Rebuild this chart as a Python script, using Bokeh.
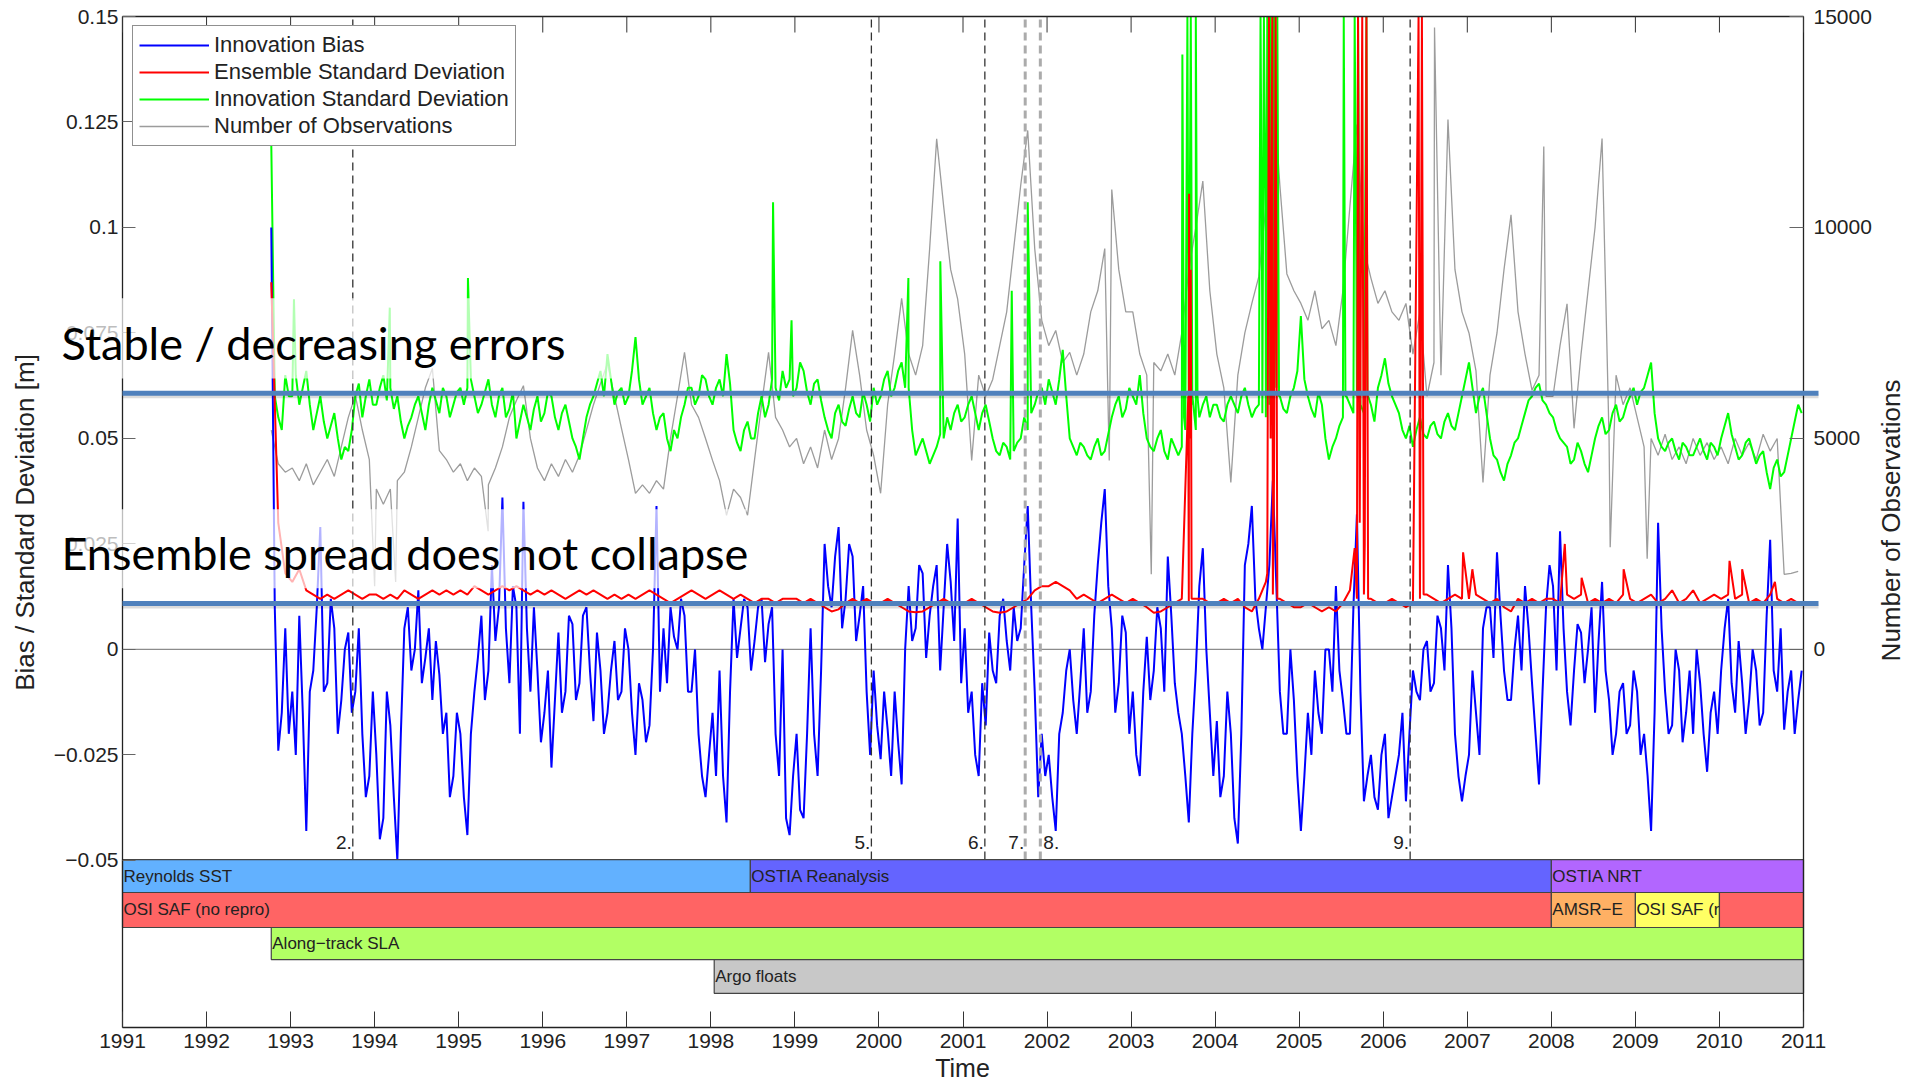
import numpy as np
from bokeh.plotting import figure
from bokeh.models import (Range1d, LinearAxis, FixedTicker, Legend, LegendItem, Label,
                          BoxAnnotation, ColumnDataSource, CustomJSTickFormatter)
from bokeh.core.properties import value
from bokeh.embed import file_html
from bokeh.resources import INLINE

# ---------------------------------------------------------------- data
T0 = 1992.77          # time of the first sample (years)
STEP = 1.0 / 12.0     # spacing of the base samples (years); "mid" samples sit half-way

# Innovation bias [m]
innovation_bias = [
    0.100, -0.024, 0.005,
    -0.010, 0.008, -0.043, -0.005, 0.029, -0.008, 0.005, -0.012, 0.004, -0.010, -0.020, -0.030,
    -0.025, -0.040, -0.018, -0.050, 0.005, -0.005, 0.014, -0.002, -0.012, -0.006, -0.015, -0.030,
    -0.020, -0.044, -0.010, 0.008, -0.005, 0.002, 0.036, -0.008, 0.010, 0.035, -0.010, -0.005,
    -0.015, -0.028, 0.004, -0.010, 0.006, -0.008, 0.010, -0.017, -0.005, -0.015, 0.002, -0.010,
    0.000, -0.025, -0.012, -0.018, 0.034, 0.005, 0.010, 0.000, 0.008, -0.010, -0.020, -0.035,
    -0.015, -0.005, -0.041, 0.012, 0.005, 0.010, 0.002, 0.012, 0.006, -0.020, 0.000, -0.044,
    -0.020, -0.040, 0.005, -0.030, 0.025, 0.010, 0.029, 0.012, 0.022, 0.008, -0.010, -0.005,
    -0.026, -0.019, -0.010, -0.032, 0.015, 0.005, 0.018, 0.008, 0.020, 0.010, 0.016, 0.031,
    0.005, -0.010, -0.030, -0.018, -0.005, 0.008, 0.002, 0.010, 0.005, 0.034, -0.010, -0.020,
    -0.025, -0.043, -0.015, 0.000, -0.020, 0.005, -0.010, 0.020, 0.038, 0.005, -0.008, 0.004,
    -0.010, -0.030, 0.003, -0.005, 0.005, 0.022, -0.008, -0.020, -0.041, -0.005, 0.024, -0.015,
    -0.017, -0.030, -0.020, -0.046, 0.020, 0.034, 0.005, 0.010, 0.040, -0.010, -0.020, -0.012,
    -0.043, -0.015, -0.005, -0.020, 0.000, 0.015, -0.012, -0.020, 0.032, -0.036, -0.025, -0.038,
    -0.020, -0.035, -0.025, -0.036, -0.005, -0.012, 0.002, -0.008, 0.005, 0.020, -0.020, -0.036,
    -0.025, -0.015, 0.005, 0.010, 0.023, -0.005, -0.012, 0.008, 0.015, -0.008, -0.032, 0.010,
    0.015, 0.028, -0.010, -0.005, 0.004, 0.000, -0.015, 0.016, -0.012, -0.020, -0.008, -0.018,
    -0.010, -0.020, -0.043, 0.030, -0.010, -0.018, -0.005, -0.015, -0.020, -0.008, -0.029, -0.010,
    -0.005, 0.012, -0.015, -0.008, -0.012, -0.005, -0.015, 0.026, -0.010, -0.019, -0.005, -0.012,
]
innovation_bias_mid = [
    0.010, -0.015, -0.020,
    -0.025, -0.015, -0.010, 0.010, -0.010, 0.012, -0.020, 0.000, -0.015, 0.005, -0.035, -0.010,
    -0.045, -0.010, -0.035, -0.020, 0.010, 0.000, -0.008, 0.005, 0.002, -0.020, -0.035, -0.015,
    -0.035, -0.020, -0.002, -0.012, 0.020, 0.010, 0.005, 0.015, -0.020, 0.005, 0.010, -0.022,
    -0.005, -0.012, -0.015, 0.008, -0.012, 0.008, -0.005, 0.004, -0.020, -0.005, -0.012, 0.005,
    -0.015, -0.008, -0.022, 0.000, -0.010, -0.008, 0.003, 0.012, -0.010, 0.000, -0.030, -0.025,
    -0.030, -0.030, -0.010, -0.002, 0.012, -0.005, 0.010, -0.003, 0.010, -0.030, -0.040, -0.030,
    -0.038, -0.020, -0.020, -0.005, 0.015, 0.022, 0.005, 0.025, 0.002, 0.015, -0.025, -0.018,
    -0.010, -0.030, -0.022, 0.000, 0.002, 0.020, -0.002, 0.015, -0.005, 0.025, 0.002, -0.008,
    -0.015, -0.025, -0.008, 0.004, -0.008, 0.012, -0.005, 0.002, 0.020, 0.010, -0.035, -0.030,
    -0.035, -0.020, -0.005, -0.012, -0.008, -0.015, 0.008, 0.030, 0.015, -0.015, 0.008, -0.020,
    -0.025, -0.010, -0.012, 0.010, -0.010, 0.008, -0.015, -0.030, -0.020, 0.015, 0.000, -0.030,
    -0.035, -0.010, -0.040, -0.020, 0.025, 0.012, 0.000, 0.020, 0.015, -0.020, 0.000, -0.030,
    -0.030, -0.025, -0.015, 0.000, -0.010, -0.005, -0.020, 0.010, -0.010, -0.030, -0.035, -0.025,
    -0.040, -0.030, -0.015, -0.020, -0.010, 0.000, -0.010, 0.008, -0.005, 0.005, -0.030, -0.030,
    -0.005, -0.025, 0.010, -0.002, 0.008, -0.012, 0.000, -0.005, 0.005, -0.020, -0.010, 0.020,
    -0.005, 0.005, -0.018, 0.006, -0.008, 0.010, 0.002, -0.005, -0.025, -0.010, -0.020, -0.005,
    -0.025, -0.030, -0.015, 0.005, -0.020, 0.000, -0.022, -0.005, 0.000, -0.020, -0.015, -0.020,
    0.005, -0.008, 0.002, -0.020, 0.000, -0.018, 0.008, -0.005, 0.005, -0.010, -0.020, -0.005,
]

# Ensemble standard deviation [m]
ensemble_std = [
    0.087, 0.030, 0.018,
    0.016, 0.019, 0.014, 0.013, 0.012, 0.013, 0.012, 0.013, 0.014, 0.013, 0.012, 0.013,
    0.013, 0.012, 0.013, 0.012, 0.014, 0.013, 0.012, 0.013, 0.014, 0.013, 0.014, 0.013,
    0.014, 0.013, 0.015, 0.014, 0.013, 0.014, 0.015, 0.014, 0.015, 0.014, 0.013, 0.014,
    0.013, 0.014, 0.013, 0.012, 0.013, 0.014, 0.013, 0.014, 0.013, 0.012, 0.013, 0.012,
    0.013, 0.012, 0.013, 0.014, 0.013, 0.012, 0.011, 0.012, 0.013, 0.014, 0.013, 0.012,
    0.013, 0.014, 0.013, 0.012, 0.013, 0.012, 0.011, 0.012, 0.012, 0.011, 0.012, 0.012,
    0.012, 0.011, 0.012, 0.011, 0.010, 0.009, 0.0095, 0.011, 0.012, 0.011, 0.012, 0.011,
    0.011, 0.012, 0.011, 0.010, 0.009, 0.0088, 0.009, 0.010, 0.011, 0.012, 0.011, 0.011,
    0.011, 0.012, 0.011, 0.010, 0.009, 0.0087, 0.009, 0.010, 0.011, 0.012, 0.014, 0.015,
    0.015, 0.016, 0.015, 0.014, 0.012, 0.013, 0.012, 0.011, 0.012, 0.013, 0.012, 0.011,
    0.012, 0.011, 0.010, 0.0087, 0.009, 0.010, 0.011, 0.012, 0.011, 0.012, 0.012, 0.011,
    0.011, 0.012, 0.011, 0.012, 0.010, 0.009, 0.012, 0.016, 0.013, 0.012, 0.011, 0.010,
    0.010, 0.011, 0.010, 0.009, 0.010, 0.009, 0.011, 0.014, 0.012, 0.013, 0.012, 0.011,
    0.011, 0.012, 0.011, 0.010, 0.011, 0.012, 0.013, 0.012, 0.011, 0.012, 0.013, 0.012,
    0.012, 0.013, 0.012, 0.011, 0.012, 0.010, 0.009, 0.012, 0.011, 0.012, 0.011, 0.012,
    0.012, 0.011, 0.013, 0.012, 0.013, 0.011, 0.012, 0.011, 0.012, 0.011, 0.013, 0.012,
    0.011, 0.012, 0.013, 0.011, 0.012, 0.014, 0.011, 0.012, 0.014, 0.011, 0.012, 0.013,
    0.012, 0.013, 0.012, 0.013, 0.011, 0.012, 0.011, 0.013, 0.012, 0.011, 0.012, 0.011,
]
ensemble_std_spike_t = [2003.68, 2003.69, 2003.70, 2003.71, 2003.72,
                        2004.62, 2004.64, 2004.66, 2004.68, 2004.70, 2004.72, 2004.74,
                        2005.66, 2005.70, 2005.72, 2005.75, 2005.78, 2005.80, 2005.82,
                        2006.42, 2006.44, 2006.46, 2006.48,
                        2006.95, 2007.06, 2008.16, 2008.36, 2008.86, 2010.12, 2010.27, 2010.66]
ensemble_std_spike_v = [0.060, 0.108, 0.050, 0.090, 0.012,
                        0.018, 0.300, 0.050, 0.300, 0.040, 0.300, 0.012,
                        0.024, 0.300, 0.030, 0.300, 0.025, 0.300, 0.012,
                        0.300, 0.030, 0.300, 0.013,
                        0.023, 0.019, 0.025, 0.017, 0.019, 0.021, 0.019, 0.016]

# Innovation standard deviation [m]
innovation_std = [
    0.120, 0.055, 0.065,
    0.060, 0.058, 0.066, 0.052, 0.060, 0.050, 0.056, 0.045, 0.047, 0.060, 0.055, 0.064,
    0.058, 0.065, 0.062, 0.060, 0.050, 0.055, 0.060, 0.052, 0.062, 0.056, 0.060, 0.058,
    0.062, 0.062, 0.060, 0.058, 0.064, 0.055, 0.062, 0.057, 0.050, 0.058, 0.052, 0.060,
    0.056, 0.060, 0.052, 0.058, 0.050, 0.045, 0.055, 0.060, 0.066, 0.070, 0.058, 0.062,
    0.060, 0.074, 0.058, 0.062, 0.052, 0.056, 0.047, 0.050, 0.058, 0.062, 0.060, 0.064,
    0.058, 0.064, 0.070, 0.052, 0.047, 0.054, 0.050, 0.060, 0.058, 0.062, 0.066, 0.064,
    0.062, 0.066, 0.058, 0.064, 0.055, 0.050, 0.058, 0.053, 0.060, 0.055, 0.058, 0.062,
    0.060, 0.066, 0.062, 0.068, 0.062, 0.046, 0.050, 0.044, 0.048, 0.050, 0.052, 0.058,
    0.055, 0.060, 0.052, 0.058, 0.050, 0.046, 0.048, 0.047, 0.050, 0.052, 0.058, 0.062,
    0.064, 0.058, 0.071, 0.050, 0.046, 0.048, 0.045, 0.050, 0.047, 0.055, 0.060, 0.057,
    0.060, 0.065, 0.050, 0.047, 0.052, 0.045, 0.048, 0.048, 0.055, 0.052, 0.058, 0.055,
    0.058, 0.054, 0.060, 0.056, 0.062, 0.055, 0.058, 0.055, 0.060, 0.060, 0.056, 0.062,
    0.079, 0.060, 0.055, 0.058, 0.045, 0.050, 0.055, 0.058, 0.060, 0.056, 0.058, 0.062,
    0.069, 0.060, 0.056, 0.050, 0.048, 0.055, 0.050, 0.054, 0.050, 0.056, 0.052, 0.060,
    0.068, 0.056, 0.062, 0.050, 0.045, 0.040, 0.046, 0.050, 0.056, 0.060, 0.063, 0.058,
    0.055, 0.050, 0.048, 0.045, 0.047, 0.042, 0.050, 0.055, 0.052, 0.058, 0.055, 0.060,
    0.058, 0.062, 0.068, 0.050, 0.047, 0.050, 0.045, 0.048, 0.046, 0.050, 0.045, 0.048,
    0.050, 0.056, 0.048, 0.046, 0.050, 0.044, 0.047, 0.038, 0.045, 0.042, 0.050, 0.058,
]
innovation_std_mid = [
    0.060, 0.052, 0.060,
    0.065, 0.062, 0.058, 0.056, 0.054, 0.053, 0.050, 0.048, 0.052, 0.063, 0.060, 0.058,
    0.062, 0.059, 0.057, 0.054, 0.053, 0.058, 0.056, 0.058, 0.059, 0.062, 0.055, 0.061,
    0.058, 0.064, 0.056, 0.061, 0.058, 0.060, 0.055, 0.061, 0.054, 0.055, 0.057, 0.054,
    0.061, 0.055, 0.056, 0.054, 0.048, 0.050, 0.058, 0.063, 0.060, 0.064, 0.061, 0.058,
    0.066, 0.064, 0.060, 0.056, 0.055, 0.050, 0.052, 0.055, 0.062, 0.058, 0.065, 0.060,
    0.062, 0.060, 0.063, 0.049, 0.052, 0.050, 0.056, 0.055, 0.064, 0.059, 0.062, 0.060,
    0.068, 0.061, 0.063, 0.059, 0.052, 0.056, 0.054, 0.057, 0.056, 0.061, 0.054, 0.058,
    0.064, 0.060, 0.066, 0.062, 0.052, 0.048, 0.047, 0.046, 0.051, 0.055, 0.056, 0.054,
    0.058, 0.056, 0.056, 0.054, 0.047, 0.049, 0.045, 0.049, 0.055, 0.056, 0.061, 0.058,
    0.061, 0.064, 0.060, 0.048, 0.049, 0.046, 0.048, 0.046, 0.051, 0.058, 0.055, 0.062,
    0.058, 0.056, 0.048, 0.050, 0.047, 0.050, 0.046, 0.052, 0.058, 0.055, 0.060, 0.058,
    0.055, 0.058, 0.058, 0.060, 0.058, 0.057, 0.056, 0.058, 0.062, 0.057, 0.060, 0.066,
    0.064, 0.057, 0.061, 0.050, 0.048, 0.053, 0.060, 0.056, 0.058, 0.060, 0.054, 0.065,
    0.063, 0.058, 0.052, 0.053, 0.052, 0.051, 0.053, 0.051, 0.054, 0.053, 0.056, 0.064,
    0.062, 0.060, 0.056, 0.046, 0.042, 0.044, 0.049, 0.053, 0.059, 0.062, 0.059, 0.056,
    0.052, 0.049, 0.044, 0.049, 0.044, 0.046, 0.053, 0.051, 0.056, 0.054, 0.058, 0.062,
    0.061, 0.065, 0.056, 0.048, 0.049, 0.047, 0.049, 0.046, 0.048, 0.047, 0.049, 0.046,
    0.053, 0.051, 0.045, 0.049, 0.047, 0.046, 0.042, 0.043, 0.041, 0.046, 0.054, 0.056,
]
innovation_std_spike_t = [1993.04, 1994.18, 1995.11, 1998.74, 1998.96, 2000.35, 2000.73, 2001.58, 2001.77,
                          2003.61, 2003.63, 2003.67, 2003.69, 2003.71, 2003.73, 2003.77, 2003.79,
                          2004.54, 2004.56, 2004.58, 2004.60, 2004.62, 2004.64, 2004.66, 2004.68,
                          2004.70, 2004.72, 2004.74, 2004.76,
                          2005.53, 2005.55, 2005.66, 2005.68, 2005.70, 2005.72, 2005.80, 2005.82]
innovation_std_spike_v = [0.083, 0.081, 0.088, 0.106, 0.078, 0.088, 0.092, 0.085, 0.106,
                          0.141, 0.055, 0.300, 0.070, 0.300, 0.060, 0.300, 0.060,
                          0.300, 0.080, 0.300, 0.100, 0.300, 0.090, 0.300, 0.120,
                          0.300, 0.080, 0.300, 0.060,
                          0.300, 0.060, 0.300, 0.090, 0.300, 0.080, 0.300, 0.060]

# Number of observations (right axis)
n_observations = [
    5200, 4400, 4200,
    4300, 4000, 4400, 3900, 4200, 4500, 4100, 4800, 5500, 6020, 5200, 4500,
    3800, 3440, 3800, 4000, 4200, 4800, 5500, 6200, 6660, 4710, 4500, 4200,
    4400, 4000, 4300, 4100, 3900, 4300, 4800, 5500, 5900, 6250, 5000, 4300,
    4000, 4400, 4100, 4500, 4200, 4600, 5200, 5800, 6300, 6780, 6000, 5240,
    4500, 3700, 3900, 3700, 4000, 3800, 5000, 6000, 7040, 5800, 5500, 5000,
    4480, 4000, 3180, 3800, 3600, 3180, 4500, 5800, 7040, 5500, 5200, 4800,
    5000, 4400, 4800, 4300, 5200, 4500, 5000, 6200, 7560, 6500, 5200, 4600,
    3700, 5800, 7000, 8320, 7000, 6500, 7200, 9500, 12100, 10500, 9000, 8300,
    7000, 4480, 6500, 6000, 6400, 7200, 8000, 9500, 11000, 12300, 9500, 7800,
    7200, 7560, 6800, 7040, 6500, 7000, 8000, 8500, 9500, 10900, 9000, 8000,
    8000, 7000, 6500, 6800, 6600, 7000, 6500, 7500, 9000, 10000, 11100, 8500,
    7000, 6200, 3960, 6500, 7500, 8200, 8840, 10500, 13460, 11000, 8900, 8500,
    8200, 7800, 8500, 7600, 7800, 7200, 8500, 10500, 12440, 9500, 8800, 8200,
    8500, 8000, 7800, 8200, 7000, 8000, 6000, 6800, 6500, 12560, 9000, 8000,
    7500, 6600, 3960, 6500, 7500, 9000, 10300, 8000, 7000, 6140, 6500, 6000,
    6000, 7200, 8190, 5240, 7000, 8500, 10000, 12110, 5000, 6500, 5800, 6200,
    5500, 4800, 5000, 4600, 5100, 4500, 4800, 4400, 5000, 4600, 4900, 4500,
    4800, 4400, 5000, 4600, 4900, 4500, 5100, 4700, 5000, 1780, 1800, 1850,
]
n_observations_spike_t = [1994.00, 1994.25, 1995.35, 2002.74, 2003.24, 2006.61, 2007.91, 2008.70, 2009.14]
n_observations_spike_v = [1500, 1600, 2800, 4480, 1780, 14740, 11920, 2420, 2150]

# axes
year_ticks = list(range(1991, 2012))
left_ticks = [-0.05, -0.025, 0.0, 0.025, 0.05, 0.075, 0.1, 0.125, 0.15]
right_ticks = [0, 5000, 10000, 15000]
X_START, X_END = 1991.0, 2011.0
Y_MIN, Y_MAX = -0.0896, 0.15
OBS_SCALE = 1e5          # observations per metre of left axis

# numbered events (dashed verticals)
event_x = [1993.74, 1999.91, 2001.26, 2001.74, 2001.92, 2006.32]
event_label = ["2.", "5.", "6.", "7.", "8.", "9."]
event_grey = [False, False, False, True, True, False]
event_label_right = [False, False, False, False, True, False]

# data-stream bars
row_edges = [-0.0498, -0.0576, -0.0659, -0.0735, -0.0815]
bar_row = [0, 0, 0, 1, 1, 1, 1, 2, 3]
bar_start = [1991.0, 1998.47, 2008.0, 1991.0, 2008.0, 2009.0, 2010.0, 1992.77, 1998.04]
bar_end = [1998.47, 2008.0, 2011.0, 2008.0, 2009.0, 2010.0, 2011.0, 2011.0, 2011.0]
bar_text = ["Reynolds SST", "OSTIA Reanalysis", "OSTIA NRT", "OSI SAF (no repro)", "AMSR\u2212E",
            "OSI SAF (r", "", "Along\u2212track SLA", "Argo floats"]
bar_color = ["#62B1FF", "#6464FF", "#B266FF", "#FF6464", "#FFB064", "#FFFF64", "#FF6464",
             "#B2FF64", "#C8C8C8"]

# overlay notes
note_text = ["Stable / decreasing errors", "Ensemble spread does not collapse"]
note_level = [0.0607, 0.0109]         # blue reference lines
note_box_right = [1996.87, 1998.42]
note_box_top = [0.0832, 0.0332]
note_box_bottom = [0.0642, 0.0145]

# ---------------------------------------------------------------- page geometry (pixels)
W, H = 1914, 1086
FRAME_L, FRAME_R, FRAME_T, FRAME_B = 122, 1803, 16, 1027
PX_X = (FRAME_R - FRAME_L) / (X_END - X_START)
PX_Y = (FRAME_B - FRAME_T) / (Y_MAX - Y_MIN)
def xd(px):   # pixel column -> year
    return X_START + (px - FRAME_L) / PX_X
def yd(py):   # pixel row -> metres
    return Y_MAX - (py - FRAME_T) / PX_Y

note_baseline = [yd(342), yd(552)]

# ---------------------------------------------------------------- helpers
def merged(base, mid=(), spike_t=(), spike_v=()):
    t = T0 + np.arange(len(base)) * STEP
    tm = T0 + STEP / 2 + np.arange(len(mid)) * STEP
    tt = np.concatenate([t, tm, np.asarray(spike_t, dtype=float)])
    vv = np.concatenate([np.asarray(base, dtype=float), np.asarray(mid, dtype=float),
                         np.asarray(spike_v, dtype=float)])
    order = np.argsort(tt, kind="stable")
    return tt[order], vv[order]

FONT = "Liberation Sans"
TXT = "#222222"
EDGE = "#222222"

p = figure(width=W, height=H, output_backend="svg", toolbar_location=None,
           x_range=Range1d(xd(0), xd(W)), y_range=Range1d(yd(H), yd(0)),
           min_border_left=0, min_border_right=0, min_border_top=0, min_border_bottom=0,
           background_fill_color="white", border_fill_color="white")
p.grid.visible = False
p.outline_line_color = None
p.extra_y_ranges = {"obs": Range1d(yd(H) * OBS_SCALE, yd(0) * OBS_SCALE)}

xa = p.xaxis[0]
xa.fixed_location = Y_MIN
xa.ticker = FixedTicker(ticks=year_ticks)
xa.major_tick_in = 16
xa.major_tick_out = 0
xa.minor_tick_line_color = None
xa.axis_line_color = None
xa.major_tick_line_color = "#333333"
xa.major_label_text_font = FONT
xa.major_label_text_font_size = "21px"
xa.major_label_text_color = TXT
xa.major_label_standoff = 6

ya = p.yaxis[0]
ya.fixed_location = X_START
ya.ticker = FixedTicker(ticks=left_ticks)
ya.formatter = CustomJSTickFormatter(code="""
if (Math.abs(tick) < 1e-12) { return "0"; }
const s = String(Math.round(Math.abs(tick) * 1000) / 1000);
return tick < 0 ? "\\u2212" + s : s;
""")
ya.major_tick_in = 13
ya.major_tick_out = 0
ya.minor_tick_line_color = None
ya.axis_line_color = None
ya.major_tick_line_color = "#666666"
ya.major_label_text_font = FONT
ya.major_label_text_font_size = "21px"
ya.major_label_text_color = TXT
ya.major_label_standoff = 4

ra = LinearAxis(y_range_name="obs", fixed_location=X_END, ticker=FixedTicker(ticks=right_ticks),
                major_tick_in=14, major_tick_out=0, minor_tick_line_color=None,
                axis_line_color=None, major_tick_line_color="#666666",
                major_label_text_font=FONT, major_label_text_font_size="21px",
                major_label_text_color=TXT, major_label_standoff=10)
p.add_layout(ra, "right")

# zero line
p.segment(x0=[X_START], y0=[0.0], x1=[X_END], y1=[0.0], line_color="#8c8c8c", line_width=1.3)

# ---------------------------------------------------------------- series
t_obs, v_obs = merged(n_observations, (), n_observations_spike_t, n_observations_spike_v)
t_in, v_in = merged(innovation_std, innovation_std_mid, innovation_std_spike_t, innovation_std_spike_v)
t_b, v_b = merged(innovation_bias, innovation_bias_mid)
t_e, v_e = merged(ensemble_std, (), ensemble_std_spike_t, ensemble_std_spike_v)

# values above the top of the axes are drawn at the axes' top edge
r_obs = p.line(t_obs, v_obs, y_range_name="obs", line_color="#9c9c9c", line_width=1.3)
r_in = p.line(t_in, np.minimum(v_in, Y_MAX), line_color="#00ff00", line_width=2)
r_b = p.line(t_b, v_b, line_color="#0000ff", line_width=2)
r_e = p.line(t_e, np.minimum(v_e, Y_MAX), line_color="#ff0000", line_width=2)

# ---------------------------------------------------------------- events
blk = [i for i, g in enumerate(event_grey) if not g]
gry = [i for i, g in enumerate(event_grey) if g]
ev = ColumnDataSource(dict(x=[event_x[i] for i in blk], y0=[row_edges[0]] * len(blk),
                           y1=[Y_MAX] * len(blk)))
evg = ColumnDataSource(dict(x=[event_x[i] for i in gry], y0=[row_edges[0]] * len(gry),
                            y1=[Y_MAX] * len(gry)))
p.segment(x0="x", y0="y0", x1="x", y1="y1", source=ev, line_color="#333333",
          line_width=1.3, line_dash="8 5")
p.segment(x0="x", y0="y0", x1="x", y1="y1", source=evg, line_color="#ababab",
          line_width=3, line_dash="8 5")

EV_LABEL_Y = -0.0457
li = [i for i, r in enumerate(event_label_right) if not r]
ri = [i for i, r in enumerate(event_label_right) if r]
lab_l = ColumnDataSource(dict(x=[event_x[i] for i in li], y=[EV_LABEL_Y] * len(li),
                              t=[event_label[i] for i in li]))
lab_r = ColumnDataSource(dict(x=[event_x[i] for i in ri], y=[EV_LABEL_Y] * len(ri),
                              t=[event_label[i] for i in ri]))
p.text(x="x", y="y", text="t", source=lab_l, text_align="right", text_baseline="middle",
       x_offset=-1, text_font=value(FONT), text_font_size="19px", text_color=TXT)
p.text(x="x", y="y", text="t", source=lab_r, text_align="left", text_baseline="middle",
       x_offset=3, text_font=value(FONT), text_font_size="19px", text_color=TXT)

# ---------------------------------------------------------------- bars
bars = ColumnDataSource(dict(
    left=bar_start, right=bar_end,
    top=[row_edges[r] for r in bar_row], bottom=[row_edges[r + 1] for r in bar_row],
    color=bar_color))
p.quad(left="left", right="right", top="top", bottom="bottom", source=bars,
       fill_color="color", line_color="#444444", line_width=1.2)
ti = [i for i, s in enumerate(bar_text) if s]
bar_labels = ColumnDataSource(dict(
    x=[bar_start[i] for i in ti],
    y=[(row_edges[bar_row[i]] + row_edges[bar_row[i] + 1]) / 2 for i in ti],
    text=[bar_text[i] for i in ti]))
p.text(x="x", y="y", text="text", source=bar_labels, text_align="left", text_baseline="middle",
       x_offset=1, text_font=value(FONT), text_font_size="17px", text_color=TXT)

# ---------------------------------------------------------------- axes box + top ticks
p.segment(x0=[X_START, X_END, X_START, X_START], y0=[Y_MIN, Y_MIN, Y_MAX, Y_MIN],
          x1=[X_START, X_END, X_END, X_END], y1=[Y_MAX, Y_MAX, Y_MAX, Y_MIN],
          line_color=EDGE, line_width=1.3)
p.segment(x0=year_ticks, y0=[Y_MAX] * len(year_ticks), x1=year_ticks,
          y1=[yd(FRAME_T + 16)] * len(year_ticks), line_color="#333333", line_width=1)

# ---------------------------------------------------------------- overlay notes
NOTE_LINE_END = xd(1818)
for lvl in note_level:
    p.line(x=[X_START, NOTE_LINE_END], y=[lvl - 3 / PX_Y] * 2, line_color="#000000",
           line_alpha=0.14, line_width=4)
    p.line(x=[X_START, NOTE_LINE_END], y=[lvl] * 2, line_color="#4F81BD", line_width=5)

NOTE_X = xd(61)
for i in range(len(note_text)):
    p.add_layout(BoxAnnotation(left=xd(45), right=note_box_right[i], top=note_box_top[i],
                               bottom=note_box_bottom[i], fill_color="white", fill_alpha=0.7,
                               line_color=None))
    p.add_layout(Label(x=NOTE_X, y=note_baseline[i], text=note_text[i], text_font="Lato",
                       text_font_size="45px", text_color="black", text_baseline="alphabetic",
                       text_align="left"))

# ---------------------------------------------------------------- axis titles
p.add_layout(Label(x=xd(24), y=yd(522), text="Bias / Standard Deviation [m]", angle=np.pi / 2,
                   text_align="center", text_baseline="middle", text_font=FONT,
                   text_font_size="26px", text_color=TXT))
p.add_layout(Label(x=xd(1890), y=yd(520), text="Number of Observations", angle=np.pi / 2,
                   text_align="center", text_baseline="middle", text_font=FONT,
                   text_font_size="26px", text_color=TXT))
p.add_layout(Label(x=xd(962), y=yd(1067), text="Time", text_align="center",
                   text_baseline="middle", text_font=FONT, text_font_size="25px",
                   text_color=TXT))

# ---------------------------------------------------------------- legend
LEG_TOP, LEG_H = 27, 119
legend = Legend(items=[LegendItem(label="Innovation Bias", renderers=[r_b]),
                       LegendItem(label="Ensemble Standard Deviation", renderers=[r_e]),
                       LegendItem(label="Innovation Standard Deviation", renderers=[r_in]),
                       LegendItem(label="Number of Observations", renderers=[r_obs])],
                location=(132, H - LEG_TOP - LEG_H), margin=0, padding=6, spacing=1,
                label_height=24, glyph_height=24, glyph_width=70, label_standoff=5,
                label_text_font=FONT, label_text_font_size="22px", label_text_color=TXT,
                border_line_color="#222222", border_line_width=1.2,
                background_fill_color="white", background_fill_alpha=1.0)
p.add_layout(legend)

open("out.html", "w", encoding="utf-8").write(file_html(p, INLINE))
